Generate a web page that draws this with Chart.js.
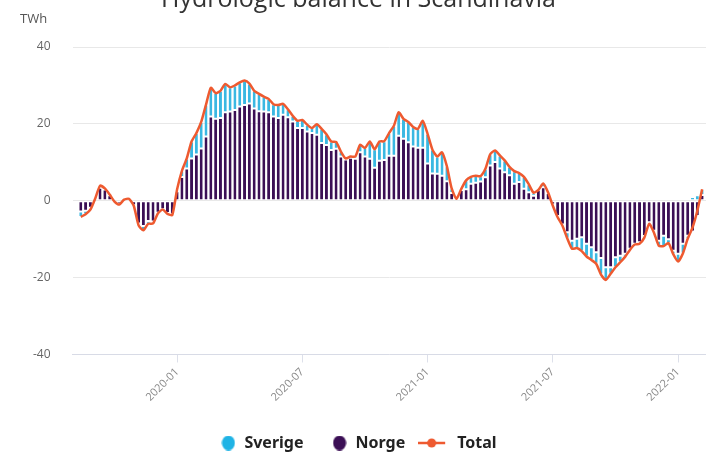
<!DOCTYPE html>
<html>
<head>
<meta charset="utf-8">
<script src="https://cdn.jsdelivr.net/npm/chart.js@4.4.1/dist/chart.umd.min.js"></script>
<style>
  html, body { margin: 0; padding: 0; background: #fff; }
  #wrap { position: relative; width: 706px; height: 456px; overflow: hidden; }
  #chart { position: absolute; left: 0; top: -20px; }
  #unit { position: absolute; left: 20px; top: 9px; font: 13px 'Open Sans', sans-serif; color: #555; }
</style>
</head>
<body>
<div id="wrap">
  <canvas id="chart" width="706" height="485"></canvas>
  <div id="unit">TWh</div>
</div>
<script>
// weekly hydrologic balance, TWh, starting week of 2019-08-19
const firstWeek = [2019, 7, 19];
const tickLabels = ['2020-01', '2020-07', '2021-01', '2021-07', '2022-01'];

const norge = [
  -2.8, -2.6, -1.8, 0.5, 3.4, 2.9, 1.4, -0.2, -0.8, 0.3,
  0.4, -1.2, -5.9, -6.6, -5.3, -5.4, -3.1, -2.2, -3.2, -3.5,
  2.5, 6.2, 8.4, 11.0, 12.0, 13.6, 16.7, 21.9, 21.3, 21.5,
  23.0, 23.2, 23.6, 24.5, 24.9, 25.3, 24.0, 23.3, 23.2, 23.0,
  21.9, 21.5, 22.4, 21.7, 20.6, 18.9, 18.9, 18.0, 17.6, 17.2,
  15.0, 14.5, 13.2, 13.5, 11.5, 10.7, 11.2, 10.9, 12.6, 11.5,
  10.9, 8.6, 10.4, 10.6, 11.7, 11.7, 16.9, 16.1, 15.2, 14.1,
  13.8, 13.8, 9.7, 7.1, 7.0, 6.5, 5.1, 2.0, 0.3, 2.8,
  3.0, 4.4, 4.7, 5.0, 6.1, 9.2, 10.1, 8.4, 7.4, 6.6,
  4.4, 4.9, 3.1, 2.2, 1.3, 2.8, 3.5, 2.0, -1.0, -4.0,
  -6.2, -8.2, -10.4, -9.9, -9.5, -11.2, -12.1, -13.4, -14.9, -17.3,
  -17.3, -14.7, -14.3, -13.8, -12.5, -11.2, -10.8, -9.2, -5.6, -7.8,
  -10.4, -9.1, -10.0, -13.0, -13.8, -11.2, -9.1, -8.0, -4.0, 1.5
];

const sverige = [
  -1.4, -0.9, -0.5, 0.1, 0.5, 0.3, 0.2, 0.0, -0.2, 0.0,
  0.1, -0.1, -0.5, -1.1, -0.7, -0.5, -0.2, -0.1, -0.2, -0.2,
  0.5, 1.6, 2.6, 4.4, 5.6, 6.9, 8.3, 7.5, 6.7, 7.1,
  7.4, 6.3, 6.4, 6.3, 6.4, 5.2, 4.6, 4.5, 3.9, 3.5,
  3.2, 3.4, 2.8, 2.1, 1.5, 1.9, 2.1, 1.8, 1.3, 2.7,
  3.7, 2.8, 2.2, 1.8, 1.3, 0.3, 0.3, 0.6, 2.0, 2.2,
  4.5, 4.8, 5.0, 4.9, 5.9, 7.8, 6.1, 5.2, 5.3, 5.1,
  4.9, 7.0, 7.7, 6.2, 4.5, 6.1, 3.9, 1.2, 0.2, 0.3,
  2.3, 1.8, 1.8, 1.4, 2.2, 2.9, 3.0, 3.4, 3.1, 2.2,
  3.3, 2.3, 3.1, 2.1, 0.8, 0.0, 1.0, 0.2, -0.3, -0.3,
  -0.3, -1.6, -2.1, -2.4, -3.6, -3.3, -3.3, -3.0, -4.3, -3.3,
  -1.7, -2.6, -1.7, -0.8, -0.3, -0.2, -0.4, -0.4, -0.4, -0.5,
  -1.3, -2.7, -1.0, -0.9, -2.0, -2.5, -0.8, 1.0, 1.4, 1.5
];

const total = [
  -4.2, -3.5, -2.3, 0.6, 3.9, 3.2, 1.6, -0.2, -1.0, 0.3,
  0.5, -1.3, -6.4, -7.7, -6.0, -5.9, -3.3, -2.3, -3.4, -3.7,
  3.0, 7.8, 11.0, 15.4, 17.6, 20.5, 25.0, 29.4, 28.0, 28.6,
  30.4, 29.5, 30.0, 30.8, 31.3, 30.5, 28.6, 27.8, 27.1, 26.5,
  25.1, 24.9, 25.2, 23.8, 22.1, 20.8, 21.0, 19.8, 18.9, 19.9,
  18.7, 17.3, 15.4, 15.3, 12.8, 11.0, 11.5, 11.5, 14.6, 13.7,
  15.4, 13.4, 15.4, 15.5, 17.6, 19.5, 23.0, 21.3, 20.5, 19.2,
  18.7, 20.8, 17.4, 13.3, 11.5, 12.6, 9.0, 3.2, 0.5, 3.1,
  5.3, 6.2, 6.5, 6.4, 8.3, 12.1, 13.1, 11.8, 10.5, 8.8,
  7.7, 7.2, 6.2, 4.3, 2.1, 2.8, 4.5, 2.2, -1.3, -4.3,
  -6.5, -9.8, -12.5, -12.3, -13.1, -14.5, -15.4, -16.4, -19.2, -20.6,
  -19.0, -17.3, -16.0, -14.6, -12.8, -11.4, -11.2, -9.6, -6.0, -8.3,
  -11.7, -11.8, -11.0, -13.9, -15.8, -13.7, -9.9, -7.0, -2.6, 3.0
];

// week index on a linear x axis, with the dates kept for the tick text
const weekIdx = [];
const weeks = [];
for (let i = 0; i < total.length; i++) {
  const d = new Date(Date.UTC(firstWeek[0], firstWeek[1], firstWeek[2] + 7 * i));
  weekIdx.push(i);
  weeks.push(d.toISOString().slice(0, 10));
}
const tickWeeks = weekIdx.filter(i => tickLabels.includes(weeks[i].slice(0, 7)) && +weeks[i].slice(8) <= 7);

// legend markers
function circleMarker(color) {
  const c = document.createElement('canvas');
  c.width = 14; c.height = 15;
  const g = c.getContext('2d');
  g.fillStyle = color;
  g.beginPath(); g.ellipse(7, 7.5, 6.5, 7.5, 0, 0, Math.PI * 2); g.fill();
  return c;
}
function lineMarker(color) {
  // line sits left of the box centre so the text keeps its gap
  const c = document.createElement('canvas');
  c.width = 46; c.height = 12;
  const g = c.getContext('2d');
  g.strokeStyle = color; g.lineWidth = 2.5;
  g.beginPath(); g.moveTo(0, 6); g.lineTo(27, 6); g.stroke();
  g.fillStyle = color;
  g.beginPath(); g.arc(13.5, 6, 4.5, 0, Math.PI * 2); g.fill();
  return c;
}

const COL_SE = '#3ab8e2';
const COL_NO = '#3b0f55';
const COL_TOT = '#ee5a30';
const markers = { Sverige: circleMarker('#1fb3e5'), Norge: circleMarker(COL_NO), Total: lineMarker(COL_TOT) };
const legendOrder = ['Sverige', 'Norge', 'Total'];

new Chart(document.getElementById('chart'), {
  data: {
    labels: weekIdx,
    datasets: [
      {
        type: 'bar', label: 'Norge', data: norge, backgroundColor: COL_NO,
        barPercentage: 0.62, categoryPercentage: 1,
        borderColor: '#fff', borderWidth: { top: 1, bottom: 1, left: 0, right: 0 }, borderSkipped: false
      },
      {
        type: 'bar', label: 'Sverige', data: sverige, backgroundColor: COL_SE,
        barPercentage: 0.62, categoryPercentage: 1,
        borderColor: '#fff', borderWidth: { top: 1, bottom: 1, left: 0, right: 0 }, borderSkipped: false
      },
      {
        type: 'line', label: 'Total', data: total, stack: 'total', order: -1,
        borderColor: COL_TOT, backgroundColor: COL_TOT, borderWidth: 2.5,
        pointRadius: 0, tension: 0.2
      }
    ]
  },
  options: {
    responsive: false,
    animation: false,
    layout: { padding: { left: 11, right: 0, top: 4, bottom: 4 } },
    scales: {
      x: {
        type: 'linear',
        stacked: true,
        min: -1.7, max: 129.8,
        offset: false,
        afterBuildTicks: s => { s.ticks = tickWeeks.map(v => ({ value: v })); },
        afterFit: s => { s.paddingLeft = 0; s.paddingRight = 0; },
        grid: { offset: false, drawOnChartArea: false, tickLength: 8, color: '#dde0ea' },
        border: { color: '#d8dbe6' },
        ticks: {
          autoSkip: false, maxRotation: 45, minRotation: 45,
          color: '#888', font: { family: 'Open Sans', size: 11 },
          callback: v => weeks[v].slice(0, 7)
        }
      },
      y: {
        stacked: true,
        min: -40, max: 40,
        grid: { color: '#e8e8e8', drawTicks: false },
        border: { display: false },
        ticks: { stepSize: 20, padding: 22, color: '#666', font: { family: 'Open Sans', size: 12 } }
      }
    },
    plugins: {
      title: {
        display: true, text: 'Hydrologic balance in Scandinavia',
        color: '#333', font: { family: 'Open Sans', size: 25, weight: 'normal' },
        padding: { top: 1, bottom: 32 }
      },
      legend: {
        position: 'bottom',
        labels: {
          usePointStyle: true, pointStyleWidth: 16, padding: 28,
          color: '#222', font: { family: 'Noto Sans', size: 16, weight: 'bold' },
          sort: (a, b) => legendOrder.indexOf(a.text) - legendOrder.indexOf(b.text),
          generateLabels: chart => {
            const items = Chart.defaults.plugins.legend.labels.generateLabels(chart);
            items.forEach(it => { it.pointStyle = markers[it.text]; });
            return items;
          }
        }
      },
      tooltip: { enabled: false }
    }
  }
});
</script>
</body>
</html>
